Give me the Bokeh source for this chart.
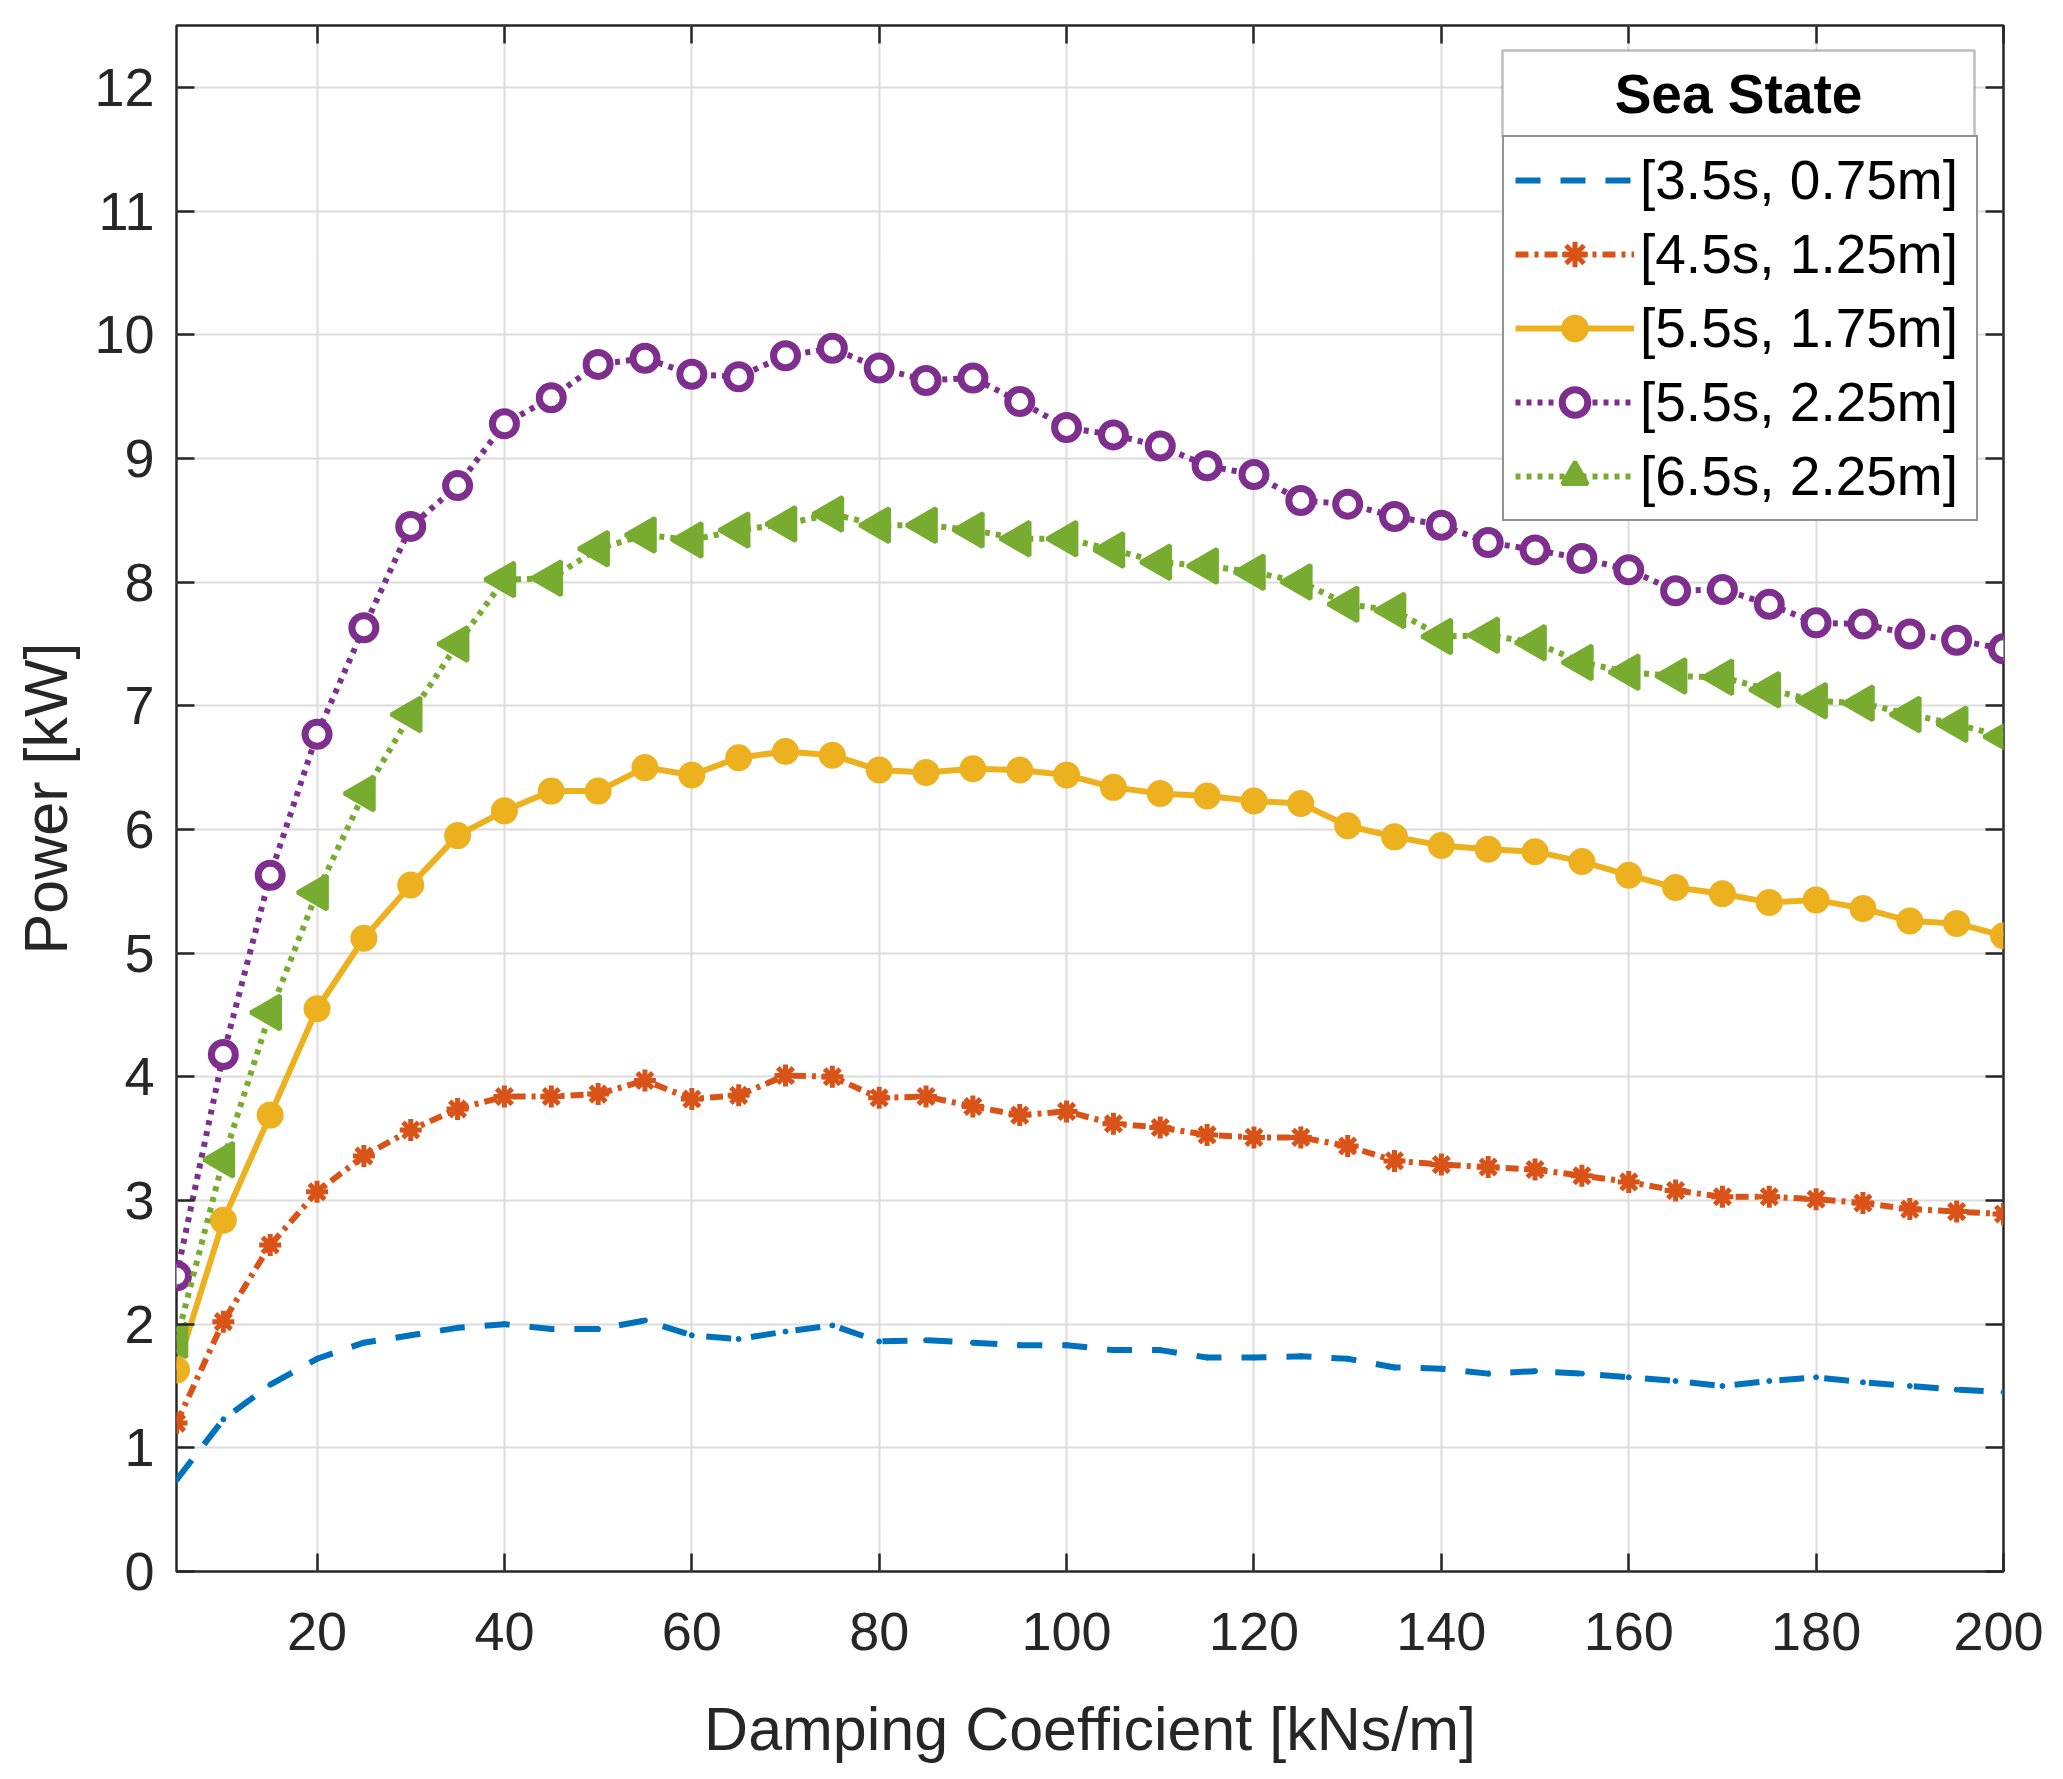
import math

from bokeh.embed import file_html
from bokeh.resources import INLINE
from bokeh.plotting import figure
from bokeh.models import (Range1d, FixedTicker, LinearAxis, Legend, LegendItem,
                          CustomJSTickFormatter, BoxAnnotation, Label)

# damping coefficient [kNs/m]
damping = [5, 10, 15, 20, 25, 30, 35, 40, 45, 50, 55, 60, 65, 70, 75, 80, 85, 90, 95, 100,
           105, 110, 115, 120, 125, 130, 135, 140, 145, 150, 155, 160, 165, 170, 175, 180,
           185, 190, 195, 200]

# power [kW] per sea state
p_35_075 = [0.74, 1.23, 1.51, 1.72, 1.85, 1.91, 1.97, 2.00, 1.96, 1.96, 2.03, 1.91, 1.88, 1.94,
            1.99, 1.86, 1.87, 1.85, 1.83, 1.83, 1.79, 1.79, 1.73, 1.73, 1.74, 1.72, 1.65, 1.64,
            1.60, 1.62, 1.60, 1.57, 1.54, 1.50, 1.54, 1.57, 1.53, 1.50, 1.47, 1.45]
p_45_125 = [1.20, 2.02, 2.64, 3.07, 3.36, 3.57, 3.74, 3.84, 3.84, 3.86, 3.97, 3.82, 3.85, 4.01,
            4.00, 3.83, 3.84, 3.76, 3.69, 3.72, 3.62, 3.59, 3.53, 3.51, 3.51, 3.44, 3.32, 3.29,
            3.27, 3.25, 3.20, 3.15, 3.08, 3.03, 3.03, 3.01, 2.98, 2.93, 2.91, 2.89]
p_55_175 = [1.63, 2.84, 3.69, 4.55, 5.12, 5.55, 5.95, 6.15, 6.31, 6.31, 6.50, 6.44, 6.58, 6.63,
            6.60, 6.48, 6.46, 6.49, 6.48, 6.44, 6.34, 6.29, 6.27, 6.23, 6.21, 6.03, 5.94, 5.87,
            5.84, 5.82, 5.74, 5.63, 5.53, 5.48, 5.41, 5.43, 5.36, 5.26, 5.24, 5.14]
p_55_225 = [2.39, 4.18, 5.63, 6.77, 7.63, 8.45, 8.78, 9.28, 9.49, 9.76, 9.81, 9.68, 9.66, 9.83,
            9.89, 9.73, 9.63, 9.65, 9.46, 9.25, 9.19, 9.10, 8.94, 8.87, 8.66, 8.63, 8.53, 8.46,
            8.32, 8.26, 8.19, 8.10, 7.93, 7.94, 7.82, 7.67, 7.66, 7.58, 7.53, 7.46]
p_65_225 = [1.87, 3.33, 4.52, 5.49, 6.29, 6.93, 7.50, 8.02, 8.03, 8.27, 8.38, 8.34, 8.42, 8.47,
            8.55, 8.46, 8.46, 8.42, 8.35, 8.35, 8.26, 8.16, 8.13, 8.08, 8.00, 7.82, 7.77, 7.56,
            7.57, 7.51, 7.35, 7.27, 7.24, 7.23, 7.13, 7.04, 7.02, 6.93, 6.85, 6.75]

labels = ["[3.5s, 0.75m]", "[4.5s, 1.25m]", "[5.5s, 1.75m]", "[5.5s, 2.25m]", "[6.5s, 2.25m]"]
legend_title = "Sea State"
x_ticks = [20, 40, 60, 80, 100, 120, 140, 160, 180, 200]
y_ticks = [0, 1, 2, 3, 4, 5, 6, 7, 8, 9, 10, 11, 12]

FONT = "Liberation Sans"
TXT = "#262626"
X0, X1, Y0, Y1 = 5, 200, 0, 12.5
FW, FH = 1827, 1546   # frame size in px


def px_x(px):
    # horizontal offset from frame left -> data x
    return X0 + px / FW * (X1 - X0)


def px_y(px):
    # vertical offset from frame top -> data y
    return Y1 - px / FH * (Y1 - Y0)


p = figure(width=2043, height=1765, output_backend="svg", toolbar_location=None,
           x_range=Range1d(X0, X1), y_range=Range1d(Y0, Y1),
           min_border_left=176, min_border_right=40, min_border_top=25, min_border_bottom=189,
           x_axis_label="Damping Coefficient [kNs/m]", y_axis_label="Power [kW]")

p.outline_line_color = TXT
p.outline_line_width = 2.5
p.background_fill_color = "white"
p.border_fill_color = "white"

p.xaxis.ticker = FixedTicker(ticks=x_ticks)
p.yaxis.ticker = FixedTicker(ticks=y_ticks)
p.xgrid.ticker = FixedTicker(ticks=x_ticks)
p.ygrid.ticker = FixedTicker(ticks=y_ticks)
p.grid.grid_line_color = "#dcdcdc"
p.grid.grid_line_width = 2

for ax in p.xaxis + p.yaxis:
    ax.axis_line_color = None
    ax.major_tick_in = 18
    ax.major_tick_out = 0
    ax.major_tick_line_color = TXT
    ax.major_tick_line_width = 2.5
    ax.minor_tick_line_color = None
    ax.major_label_text_font = FONT
    ax.major_label_text_font_size = "54px"
    ax.major_label_text_color = TXT
    ax.axis_label_text_font = FONT
    ax.axis_label_text_font_size = "61px"
    ax.axis_label_text_font_style = "normal"
    ax.axis_label_text_color = TXT
p.xaxis.major_label_standoff = 41
p.xaxis.axis_label_standoff = 42
p.yaxis.major_label_standoff = 22
p.yaxis.axis_label_standoff = 11

# mirrored ticks on top and right, no labels
blank = CustomJSTickFormatter(code="return ''")
mirror = dict(formatter=blank, axis_line_color=None, major_tick_in=18, major_tick_out=0,
              major_tick_line_color=TXT, major_tick_line_width=2.5, minor_tick_line_color=None,
              major_label_standoff=0, major_label_text_font_size="1px")
p.add_layout(LinearAxis(ticker=FixedTicker(ticks=x_ticks), **mirror), "above")
p.add_layout(LinearAxis(ticker=FixedTicker(ticks=y_ticks), **mirror), "right")

c_blue, c_orange, c_yellow, c_purple, c_green = "#0072BD", "#D95319", "#EDB120", "#7E2F8E", "#77AC30"

l1 = p.line(damping, p_35_075, color=c_blue, line_width=6, line_dash="25 20")
m1 = p.scatter(damping, p_35_075, marker="circle", size=5, color=c_blue)

l2 = p.line(damping, p_45_125, color=c_orange, line_width=6, line_dash="13 6 4 6")
m2 = p.scatter(damping, p_45_125, marker="asterisk", size=22, line_width=5, line_color=c_orange)

l3 = p.line(damping, p_55_175, color=c_yellow, line_width=6)
m3 = p.scatter(damping, p_55_175, marker="circle", size=25, line_width=2,
               line_color=c_yellow, fill_color=c_yellow)

l4 = p.line(damping, p_55_225, color=c_purple, line_width=6, line_dash="5 6")
m4 = p.scatter(damping, p_55_225, marker="circle", size=24, line_width=7,
               line_color=c_purple, fill_color="white")

l5 = p.line(damping, p_65_225, color=c_green, line_width=6, line_dash="5 6")
m5 = p.scatter(damping, p_65_225, marker="triangle", size=34, angle=math.pi / 2,
               line_width=4, line_color=c_green, fill_color=c_green)

legend = Legend(items=[LegendItem(label=labels[0], renderers=[l1]),
                       LegendItem(label=labels[1], renderers=[l2, m2]),
                       LegendItem(label=labels[2], renderers=[l3, m3]),
                       LegendItem(label=labels[3], renderers=[l4, m4]),
                       LegendItem(label=labels[4], renderers=[l5, m5])],
                location=(1326, 1050))
legend.label_text_font = FONT
legend.label_text_font_size = "55px"
legend.label_text_color = "black"
legend.label_height = 64
legend.label_width = 325
legend.glyph_height = 64
legend.glyph_width = 119
legend.label_standoff = 6
legend.spacing = 10
legend.padding = 11
legend.border_line_color = TXT
legend.border_line_width = 2.5
legend.background_fill_alpha = 1
p.add_layout(legend)

# legend title in its own box above the entries
title_box = BoxAnnotation(left=px_x(1326), right=px_x(1798), top=px_y(25), bottom=px_y(111),
                          fill_color="white", fill_alpha=1, line_color=TXT, line_width=2.5)
p.add_layout(title_box)
p.add_layout(Label(x=px_x(1562), y=px_y(68), text=legend_title, text_align="center",
                   text_baseline="middle", text_font=FONT, text_font_size="55px",
                   text_font_style="bold", text_color="black"))

open("out.html", "w").write(file_html(p, INLINE))
